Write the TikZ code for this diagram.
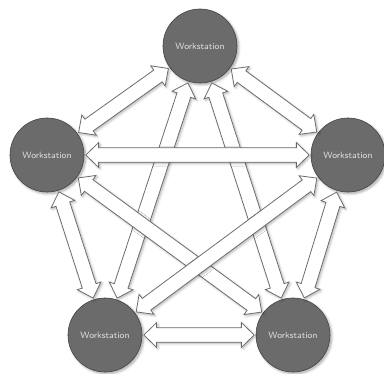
\documentclass[tikz,border=0pt]{standalone}
\usepackage{tikz}
\usetikzlibrary{positioning,calc,shadows,shadows.blur}
\definecolor{stationgray}{HTML}{6B6B6B}
\definecolor{edgegray}{HTML}{6A6A6A}
\tikzset{station/.style={circle,draw=black!75,fill=stationgray,minimum size=1.85cm,inner sep=0pt,
    text=white!88!black,font=\sffamily\fontsize{6.5}{7}\selectfont,
    blur shadow={shadow xshift=1.2pt,shadow yshift=-1.2pt,shadow blur steps=6,shadow opacity=35}}}
\tikzset{twoway/.style={draw=edgegray,fill=white,line width=0.55pt,line join=miter,
    blur shadow={shadow xshift=1pt,shadow yshift=-1pt,shadow blur steps=4,shadow opacity=30}}}
\newcommand{\reach}{0.97cm}
\newcommand{\headlen}{0.32cm}
\newcommand{\shaftw}{0.18cm}
\newcommand{\headw}{0.31cm}
\newcommand{\twoway}[2]{%
  \coordinate (s) at ($(#1)!\reach!(#2)$);
  \coordinate (e) at ($(#2)!\reach!(#1)$);
  \coordinate (p) at ($(s)!\headlen!(e)$);
  \coordinate (q) at ($(e)!\headlen!(s)$);
  \draw[twoway] (s) -- ($(p)!\headw!90:(e)$) -- ($(p)!\shaftw!90:(e)$)
    -- ($(q)!\shaftw!-90:(s)$) -- ($(q)!\headw!-90:(s)$) -- (e)
    -- ($(q)!\headw!90:(s)$) -- ($(q)!\shaftw!90:(s)$)
    -- ($(p)!\shaftw!-90:(e)$) -- ($(p)!\headw!-90:(e)$) -- cycle;}

\begin{document}
\begin{tikzpicture}[x=0.025cm,y=-0.025cm]
  \useasboundingbox (0,0) rectangle (384,374);
  % workstations
  \node[station] (wsT) at (200,46) {Workstation};
  \node[station] (wsL) at (47,155) {Workstation};
  \node[station] (wsR) at (348,155) {Workstation};
  \node[station] (wsBL) at (105,335) {Workstation};
  \node[station] (wsBR) at (293,335) {Workstation};

  % long links
  \twoway{wsT}{wsBL}
  \twoway{wsT}{wsBR}
  \twoway{wsL}{wsBR}
  \twoway{wsR}{wsBL}
  \twoway{wsL}{wsR}
  % short links
  \twoway{wsT}{wsL}
  \twoway{wsT}{wsR}
  \twoway{wsL}{wsBL}
  \twoway{wsR}{wsBR}
  \twoway{wsBL}{wsBR}
\end{tikzpicture}
\end{document}
